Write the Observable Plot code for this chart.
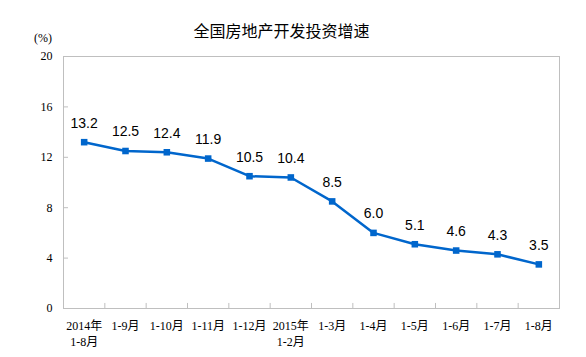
<!DOCTYPE html>
<html>
<head>
<meta charset="utf-8">
<script src="https://cdn.jsdelivr.net/npm/d3@7"></script>
<script src="https://cdn.jsdelivr.net/npm/@observablehq/plot@0.6"></script>
<style>
  html, body { margin: 0; padding: 0; background: #fff; }
</style>
</head>
<body>
<div id="chart"></div>
<script>
const title = "全国房地产开发投资增速";
const unitLabel = "(%)";
const categories = ["2014年\n1-8月", "1-9月", "1-10月", "1-11月", "1-12月", "2015年\n1-2月", "1-3月", "1-4月", "1-5月", "1-6月", "1-7月", "1-8月"];
const values = [13.2, 12.5, 12.4, 11.9, 10.5, 10.4, 8.5, 6.0, 5.1, 4.6, 4.3, 3.5];
const yTicks = [0, 4, 8, 12, 16, 20];

const data = categories.map((c, i) => ({i, c, v: values[i]}));
const bounds = d3.range(0.5, categories.length - 1, 1);
const gray = "#bfbfbf";
const tickFont = "'Liberation Serif', 'Noto Sans CJK SC', serif";

const chart = Plot.plot({
  width: 586,
  height: 357,
  marginLeft: 63,
  marginRight: 27,
  marginTop: 56,
  marginBottom: 49,
  style: {background: "#fff"},
  x: {type: "linear", domain: [-0.5, categories.length - 0.5]},
  y: {domain: [0, 20]},
  marks: [
    Plot.frame({stroke: gray}),
    Plot.ruleY(yTicks.slice(1, -1), {x1: -0.5, x2: -0.5 + 5 / 41.33, stroke: gray}),
    Plot.ruleX(bounds, {y1: 0, y2: 0.4, stroke: gray}),
    Plot.axisY({ticks: yTicks, tickSize: 0, tickPadding: 11, label: null, fontFamily: tickFont, fontSize: 12, fill: "#000"}),
    Plot.axisX({ticks: d3.range(categories.length), tickFormat: i => categories[i], tickSize: 0, tickPadding: 10, label: null, fontFamily: tickFont, fontSize: 12, fill: "#000", lineHeight: 1.33}),
    Plot.line(data, {x: "i", y: "v", stroke: "#0066cc", strokeWidth: 2.5}),
    Plot.dot(data, {x: "i", y: "v", symbol: "square", r: 3.7, fill: "#0066cc", stroke: "none"}),
    Plot.text(data, {x: "i", y: "v", text: d => d.v.toFixed(1), dy: -19, fontFamily: "'Liberation Sans', Arial, sans-serif", fontSize: 14, fill: "#000"}),
    Plot.text([title], {frameAnchor: "top-left", dx: 218, dy: -31, textAnchor: "middle", fontFamily: "'Noto Sans CJK SC', sans-serif", fontSize: 16, fill: "#000"}),
    Plot.text([unitLabel], {frameAnchor: "top-left", dx: -20.5, dy: -23, textAnchor: "middle", fontFamily: tickFont, fontSize: 12, fill: "#000"})
  ]
});
document.getElementById("chart").appendChild(chart);
</script>
</body>
</html>
